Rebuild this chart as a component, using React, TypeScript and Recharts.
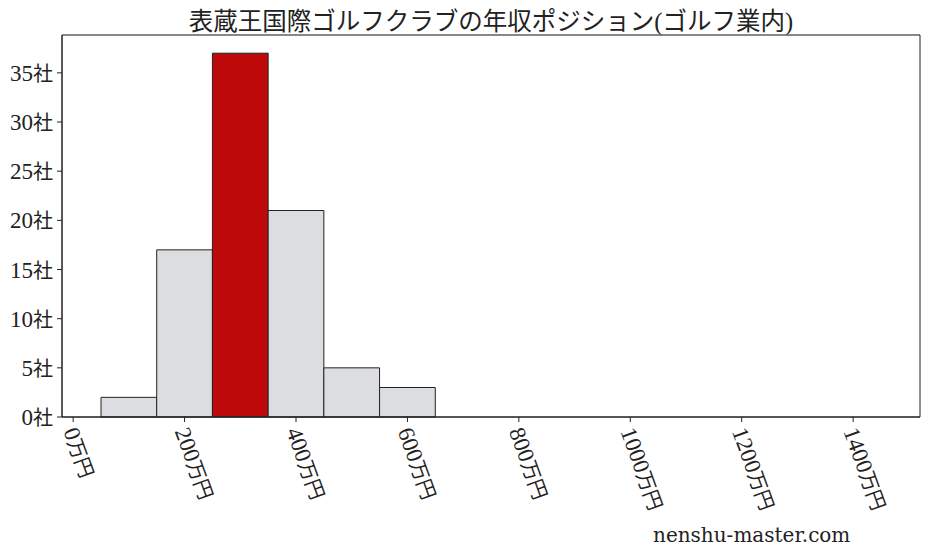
import { ComposedChart, XAxis, YAxis, CartesianGrid, ReferenceArea, Line } from 'recharts';

// 年収ビン（万円）と企業数
const binStarts = [50, 150, 250, 350, 450, 550];
const binEnds = [150, 250, 350, 450, 550, 650];
const counts = [2, 17, 37, 21, 5, 3];
const highlightIndex = 2;

const xTicks = [0, 200, 400, 600, 800, 1000, 1200, 1400];
const yTicks = [0, 5, 10, 15, 20, 25, 30, 35];
const xDomain = [-20, 1520];
const yDomain = [0, 38.85];

const titleText = '表蔵王国際ゴルフクラブの年収ポジション(ゴルフ業内)';
const watermark = 'nenshu-master.com';

const FONT = "'Liberation Serif', 'Noto Sans CJK JP', serif";

const chartData = binStarts.map((s, i) => ({ x: (s + binEnds[i]) / 2, count: counts[i] }));

const XTick = ({ x, y, payload }: any) => (
  <g transform={`translate(${x - 10},${y + 7})`}>
    <text transform="rotate(70)" textAnchor="start" fill="#222" fontFamily={FONT}>
      <tspan fontSize={23}>{payload.value}</tspan>
      <tspan fontSize={20}>万円</tspan>
    </text>
  </g>
);

const YTick = ({ x, y, payload }: any) => (
  <text x={x - 2} y={y} dy={8} textAnchor="end" fill="#222" fontFamily={FONT}>
    <tspan fontSize={23}>{payload.value}</tspan>
    <tspan fontSize={20}>社</tspan>
  </text>
);

export default function App() {
  return (
    <div style={{ position: 'absolute', left: 0, top: 0, width: 928, height: 557, background: '#fff', fontFamily: FONT }}>
      <div
        style={{
          position: 'absolute',
          left: 62,
          width: 858,
          top: 2,
          textAlign: 'center',
          fontSize: 24.5,
          color: '#222',
        }}
      >
        {titleText}
      </div>
      <ComposedChart
        width={928}
        height={557}
        data={chartData}
        margin={{ top: 35, right: 8, left: 8, bottom: 40 }}
      >
        <CartesianGrid vertical={false} stroke="#dddddd" />
        <XAxis
          xAxisId="bottom"
          type="number"
          dataKey="x"
          domain={xDomain}
          ticks={xTicks}
          allowDataOverflow
          interval={0}
          height={100}
          stroke="#222"
          tickSize={5}
          tick={<XTick />}
        />
        <YAxis
          yAxisId="left"
          type="number"
          domain={yDomain}
          ticks={yTicks}
          allowDataOverflow
          interval={0}
          width={54}
          stroke="#222"
          tickSize={5}
          tick={<YTick />}
        />
        {binStarts.map((s, i) => (
          <ReferenceArea
            key={s}
            xAxisId="bottom"
            yAxisId="left"
            x1={s}
            x2={binEnds[i]}
            y1={0}
            y2={counts[i]}
            fill={i === highlightIndex ? '#be0a0a' : '#dcdde0'}
            fillOpacity={1}
            stroke="#222"
            strokeWidth={1}
          />
        ))}
        {/* 枠線 */}
        <ReferenceArea
          xAxisId="bottom"
          yAxisId="left"
          x1={xDomain[0]}
          x2={xDomain[1]}
          y1={yDomain[0]}
          y2={yDomain[1]}
          fill="none"
          stroke="#222"
          strokeWidth={1}
        />
        <Line
          xAxisId="bottom"
          yAxisId="left"
          dataKey="count"
          stroke="none"
          dot={false}
          activeDot={false}
          isAnimationActive={false}
        />
      </ComposedChart>
      <div style={{ position: 'absolute', left: 653, top: 523, fontSize: 20, color: '#222', fontFamily: "'DejaVu Serif', serif" }}>
        {watermark}
      </div>
    </div>
  );
}
